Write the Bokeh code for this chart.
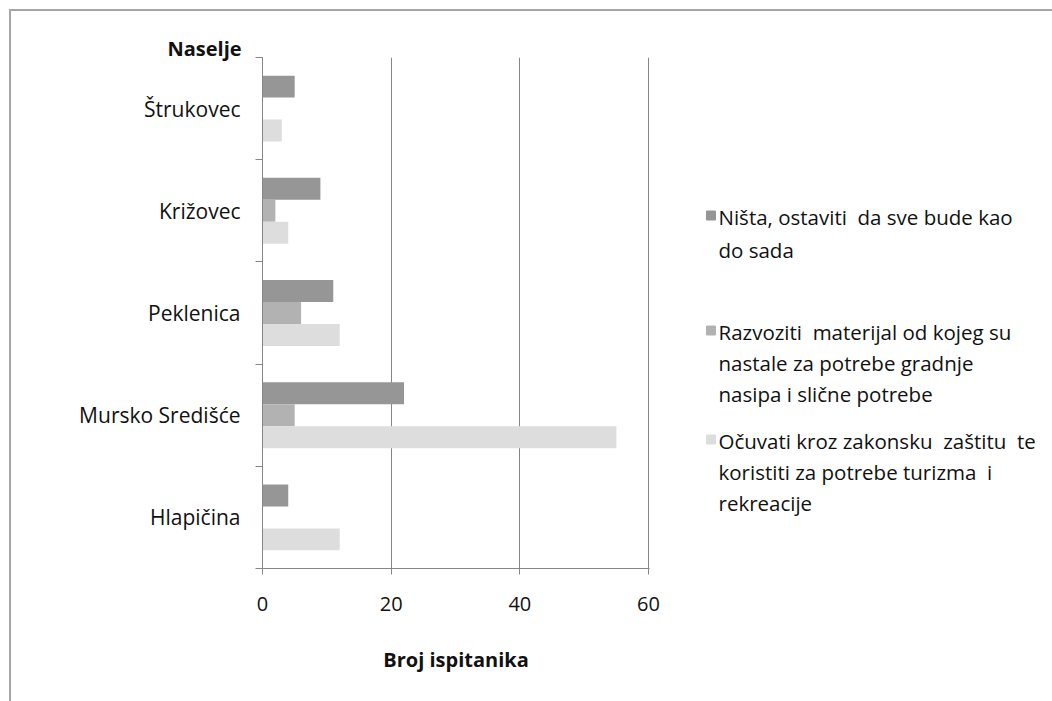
from bokeh.plotting import figure
from bokeh.layouts import row
from bokeh.models import Range1d, FixedTicker, ColumnDataSource
from bokeh.transform import dodge
from bokeh.core.properties import value
from bokeh.embed import file_html
from bokeh.resources import INLINE

# ---- data ----
categories = ["Štrukovec", "Križovec", "Peklenica", "Mursko Središće", "Hlapičina"]
nista = [5, 9, 11, 22, 4]
razvoziti = [0, 2, 6, 5, 0]
ocuvati = [3, 4, 12, 55, 12]
x_ticks = [0, 20, 40, 60]
legend_lines = [
    ["Ništa, ostaviti\u00a0 da sve bude kao", "do sada"],
    ["Razvoziti\u00a0 materijal od kojeg su", "nastale za potrebe gradnje", "nasipa i slične potrebe"],
    ["Očuvati kroz zakonsku\u00a0 zaštitu\u00a0 te", "koristiti za potrebe turizma\u00a0 i", "rekreacije"],
]
colors = ["#969696", "#b2b2b2", "#dddddd"]
y_title = "Naselje"
x_title = "Broj ispitanika"

FONT = "Open Sans"
TXT = "#111111"
AX = "#868686"

# ---- layout geometry (page pixels) ----
OX, OY = 11, 11                     # content origin (after margin + border)
FL, FT, FR, FB = 262, 57, 649, 568  # plot frame edges
MAIN_R = 700                        # right edge of main figure
PAGE_R, PAGE_B = 1052, 701
XMAX = 60.15
n = len(categories)
centers = [n - 0.5 - i for i in range(n)]

src = ColumnDataSource(dict(y=centers, cat=categories, a=nista, b=razvoziti, c=ocuvati))

W1, H = MAIN_R - OX, PAGE_B - OY
p = figure(width=W1, height=H, x_range=Range1d(0, XMAX), y_range=Range1d(0, n),
           output_backend="svg", toolbar_location=None,
           min_border_left=FL - OX, min_border_top=FT - OY,
           min_border_right=MAIN_R - FR, min_border_bottom=PAGE_B - FB)
p.outline_line_color = None
p.background_fill_color = "white"
p.border_fill_color = "white"

# "Naselje" title sitting at the top-left of the category axis
p.title.text = y_title
p.title.align = "left"
p.title.offset = -95
p.title.standoff = -8
p.title.text_font = FONT
p.title.text_font_size = "20px"
p.title.text_font_style = "bold"
p.title.text_color = TXT
p.title.vertical_align = "bottom"

bh = 0.215
for col, off, color in zip(["a", "b", "c"], [bh, 0, -bh], colors):
    p.hbar(y=dodge("y", off), left=0, right=col, height=bh, source=src,
           fill_color=color, line_color=None)

# x axis
xa = p.xaxis[0]
xa.ticker = FixedTicker(ticks=x_ticks, minor_ticks=[])
xa.axis_line_color = AX
xa.major_tick_line_color = AX
xa.major_tick_out = 6
xa.major_tick_in = 0
xa.minor_tick_line_color = None
xa.major_label_text_font = FONT
xa.major_label_text_font_size = "20px"
xa.major_label_text_color = TXT
xa.major_label_standoff = 22
xa.axis_label = x_title
xa.axis_label_text_font = FONT
xa.axis_label_text_font_size = "20px"
xa.axis_label_text_font_style = "bold"
xa.axis_label_text_color = TXT
xa.axis_label_standoff = 32

# y axis
ya = p.yaxis[0]
ya.ticker = FixedTicker(ticks=centers, minor_ticks=list(range(n + 1)))
ya.major_label_overrides = {c: name for c, name in zip(centers, categories)}
ya.axis_line_color = AX
ya.major_tick_line_color = None
ya.major_tick_out = 0
ya.major_tick_in = 0
ya.minor_tick_line_color = AX
ya.minor_tick_out = 7
ya.minor_tick_in = 0
ya.major_label_text_font = FONT
ya.major_label_text_font_size = "21px"
ya.major_label_text_color = TXT
ya.major_label_standoff = 15

p.xgrid.ticker = FixedTicker(ticks=x_ticks[1:])
p.xgrid.grid_line_color = AX
p.ygrid.grid_line_color = None

# ---- legend panel (separate figure; its frame is aligned with the main frame) ----
W2 = PAGE_R - MAIN_R
lg = figure(width=W2, height=H, x_range=Range1d(MAIN_R, MAIN_R + W2),
            y_range=Range1d(FB, FT), output_backend="svg", toolbar_location=None,
            x_axis_type=None, y_axis_type=None, min_border=0)
lg.outline_line_color = None
lg.grid.visible = False
lg.title.visible = False
lg.background_fill_color = "white"
lg.border_fill_color = "white"

first_y = [216, 331, 440]
pitch = 31.3
sq_x0, sq_size, txt_x = 706, 9, 718
sq = dict(left=[], right=[], top=[], bottom=[], color=[])
tx = dict(x=[], y=[], text=[])
for lines, y0, color in zip(legend_lines, first_y, colors):
    sq["left"].append(sq_x0)
    sq["right"].append(sq_x0 + sq_size)
    sq["top"].append(y0 - sq_size / 2 - 1)
    sq["bottom"].append(y0 + sq_size / 2 - 1)
    sq["color"].append(color)
    for k, t in enumerate(lines):
        tx["x"].append(txt_x)
        tx["y"].append(y0 + pitch * k + (2 if (k == 1 and len(lines) == 2) else 0))
        tx["text"].append(t)
lg.quad(left="left", right="right", top="top", bottom="bottom", color="color",
        source=ColumnDataSource(sq))
lg.text(x="x", y="y", text="text", source=ColumnDataSource(tx),
        text_font=value(FONT), text_font_size="20.5px", text_color=TXT,
        text_align="left", text_baseline="middle")

layout = row(p, lg, margin=(OY - 2, 0, 0, OX - 2),
             styles={"border-left": "2px solid #a6a6a6", "border-top": "2px solid #a6a6a6"})

open("out.html", "w").write(file_html(layout, INLINE))
